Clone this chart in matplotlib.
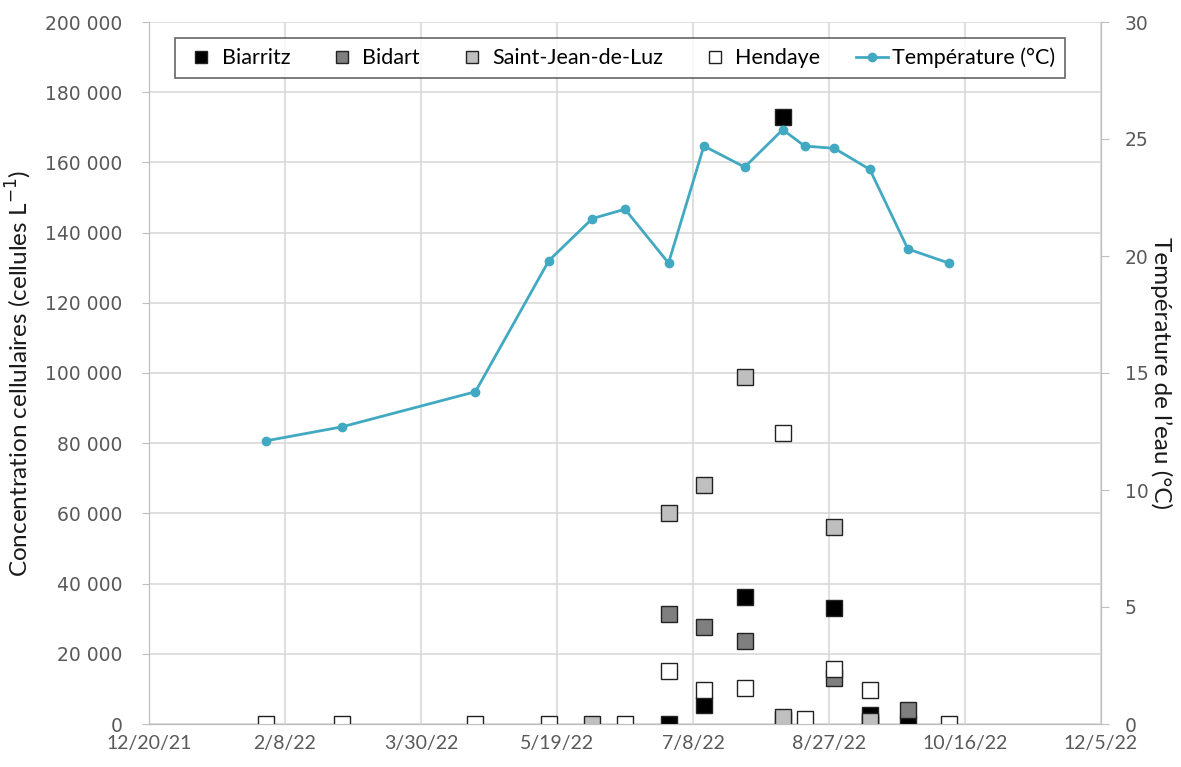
import numpy as np
import pandas as pd
import matplotlib
matplotlib.use('Agg')
import matplotlib.pyplot as plt
from matplotlib.ticker import FuncFormatter, MultipleLocator

nan = np.nan

# sampling dates and values
dates = ['2022-02-01', '2022-03-01', '2022-04-19', '2022-05-16', '2022-06-01',
         '2022-06-13', '2022-06-29', '2022-07-12', '2022-07-27', '2022-08-10',
         '2022-08-18', '2022-08-29', '2022-09-11', '2022-09-25', '2022-10-10']
temperature = [12.1, 12.7, 14.2, 19.8, 21.6, 22.0, 19.7, 24.7, 23.8, 25.4,
               24.7, 24.6, 23.7, 20.3, 19.7]
biarritz = [nan, nan, nan, nan, nan, nan, 0, 5400, 36200, 172900,
            nan, 33000, 2600, 0, nan]
bidart = [nan, nan, nan, nan, nan, nan, 31300, 27600, 23600, 1000,
          nan, 13000, 0, 4000, nan]
saint_jean = [nan, nan, nan, nan, 0, nan, 60100, 68100, 98900, 2000,
              nan, 56100, 900, nan, nan]
hendaye = [0, 0, 0, 0, nan, 0, 15100, 9700, 10300, 82900,
           1400, 15700, 9700, nan, 0]

sites = ['Biarritz', 'Bidart', 'Saint-Jean-de-Luz', 'Hendaye']
site_values = [biarritz, bidart, saint_jean, hendaye]
site_colors = ['#000000', '#7f7f7f', '#bfbfbf', '#ffffff']

plt.rcParams['font.family'] = ['Lato', 'DejaVu Sans']

x = pd.to_datetime(dates)
start = pd.Timestamp('2021-12-20')
ticks = [start + pd.Timedelta(days=50 * i) for i in range(8)]

fig = plt.figure(figsize=(11.81, 7.67), dpi=100)
ax = fig.add_axes([149 / 1181, 1 - 724 / 767, 952 / 1181, 702 / 767])
ax2 = ax.twinx()

grid_c = '#d9d9d9'
ax.set_xlim(ticks[0], ticks[-1])
ax.set_xticks(ticks)
ax.set_xticklabels([f'{t.month}/{t.day}/{t.strftime("%y")}' for t in ticks])
ax.set_ylim(0, 200000)
ax.yaxis.set_major_locator(MultipleLocator(20000))
ax.yaxis.set_major_formatter(FuncFormatter(lambda v, p: f'{int(v):,}'.replace(',', ' ')))
ax.grid(True, color=grid_c, linewidth=1.2)
ax.set_axisbelow(True)

handles = []
for name, vals, col in zip(sites, site_values, site_colors):
    h, = ax.plot(x, vals, linestyle='none', marker='s', markersize=12,
                 markerfacecolor=col, markeredgecolor='#222222',
                 markeredgewidth=1.0, label=name, zorder=3)
    handles.append(h)

ax2.set_ylim(0, 30)
ax2.yaxis.set_major_locator(MultipleLocator(5))
h, = ax2.plot(x, temperature, color='#41a9c1', linewidth=2, marker='o',
              markersize=6, label='Température (°C)', zorder=4)
handles.append(h)

for a in (ax, ax2):
    for s in a.spines.values():
        s.set_color('#bfbfbf')
    a.spines['top'].set_visible(False)
ax.spines['bottom'].set_color('#a6a6a6')

ax.tick_params(axis='x', length=0, labelsize=14, colors='#595959', pad=8)
ax.tick_params(axis='y', length=5, color='#bfbfbf', labelsize=13.5,
               labelcolor='#595959', pad=14)
ax2.tick_params(axis='y', length=6, color='#bfbfbf', labelsize=13.5,
                labelcolor='#595959', pad=11)
for lab in ax.get_yticklabels() + ax2.get_yticklabels():
    lab.set_family('DejaVu Sans')

ax.set_ylabel('Concentration cellulaires (cellules L$^{-1}$)', fontsize=17.5,
              color='#1a1a1a', labelpad=8)
ax2.set_ylabel('Température de l’eau (°C)', fontsize=17.5, color='#1a1a1a',
               rotation=270, labelpad=17)

leg = ax2.legend(handles=handles, loc='upper center', bbox_to_anchor=(0.495, 0.977),
                 ncol=5, fontsize=15.5, frameon=True, fancybox=False,
                 edgecolor='#404040', handlelength=1.5, columnspacing=1.65,
                 handletextpad=0.2, borderpad=0.45, borderaxespad=0)
leg.get_frame().set_linewidth(1.2)
for lh in leg.legend_handles[:4]:
    lh.set_markersize(9)

fig.savefig('out.png', dpi=100)
